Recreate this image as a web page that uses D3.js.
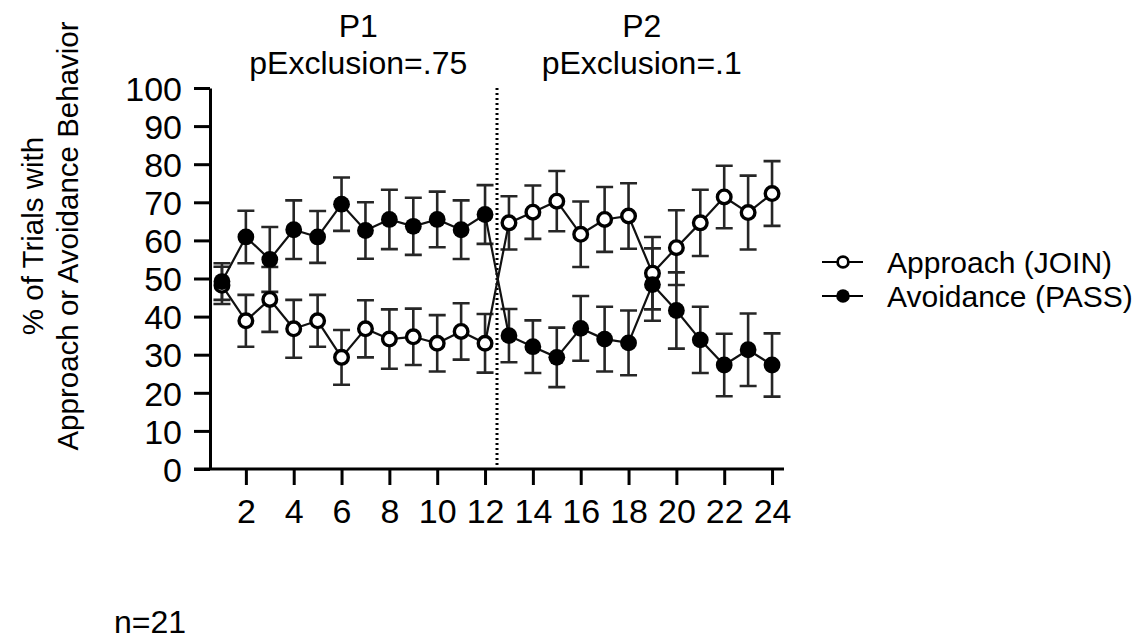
<!DOCTYPE html>
<html lang="en">
<head>
<meta charset="UTF-8">
<title>Approach / Avoidance</title>
<script src="https://cdn.jsdelivr.net/npm/d3@7"></script>
<style>
  body { margin: 0; background: #fff; }
  svg text { font-family: "Liberation Sans", Arial, sans-serif; fill: #000; }
</style>
</head>
<body>
<svg id="chart" width="1148" height="639"></svg>
<script>
// trial numbers and group means (% of trials) with SEM
var trials = d3.range(1, 25);
var approach = [48.2, 38.9, 44.5, 36.8, 38.9, 29.3, 36.8, 34.1, 34.7, 33.0, 36.1, 33.0,
                64.6, 67.4, 70.3, 61.6, 65.5, 66.4, 51.4, 58.1, 64.6, 71.4, 67.3, 72.3];
var approachSem = [4.9, 6.8, 8.5, 7.6, 6.8, 7.2, 7.5, 7.8, 7.4, 7.4, 7.4, 7.7,
                   7.0, 7.0, 7.9, 8.6, 8.5, 8.6, 9.5, 9.8, 8.7, 8.2, 9.7, 8.5];
var avoidance = [49.2, 60.9, 55.0, 62.8, 60.9, 69.5, 62.6, 65.5, 63.7, 65.5, 62.8, 66.8,
                 35.0, 32.1, 29.3, 36.9, 34.1, 33.1, 48.4, 41.6, 33.9, 27.3, 31.3, 27.3];
var avoidanceSem = [4.8, 6.9, 8.5, 7.7, 6.8, 7.0, 7.4, 7.8, 7.5, 7.3, 7.7, 7.7,
                    7.0, 6.9, 7.8, 8.5, 8.5, 8.5, 9.5, 10.0, 8.7, 8.2, 9.5, 8.3];
var xTicks = [2, 4, 6, 8, 10, 12, 14, 16, 18, 20, 22, 24];
var yTicks = [0, 10, 20, 30, 40, 50, 60, 70, 80, 90, 100];
var phases = [{name: "P1", sub: "pExclusion=.75", at: 6.7}, {name: "P2", sub: "pExclusion=.1", at: 18.55}];
var phaseBreak = 12.5;
var legendNames = ["Approach (JOIN)", "Avoidance (PASS)"];

var svg = d3.select("#chart");

var x = d3.scaleLinear().domain([0.5, 24.5]).range([210, 784]);
var y = d3.scaleLinear().domain([0, 100]).range([469, 88]);

// axes
var xAxis = svg.append("g")
    .attr("transform", "translate(0," + y(0) + ")")
    .call(d3.axisBottom(x).tickValues(xTicks).tickSize(16).tickPadding(14).tickSizeOuter(0));
var yAxis = svg.append("g")
    .attr("transform", "translate(" + x(0.5) + ",0)")
    .call(d3.axisLeft(y).tickValues(yTicks).tickSize(16).tickPadding(12).tickSizeOuter(0));

[xAxis, yAxis].forEach(function(a) {
  a.select(".domain").attr("stroke", "#000").attr("stroke-width", 3);
  a.selectAll(".tick line").attr("stroke", "#000").attr("stroke-width", 3);
  a.selectAll(".tick text").attr("font-size", 34).attr("fill", "#000")
    .style("font-family", "'Liberation Sans', Arial, sans-serif");
});
xAxis.select(".domain").attr("d", "M" + (x(0.5) - 16) + ",0H" + x(24.5));
xAxis.selectAll(".tick text").attr("dy", "0.71em");
yAxis.selectAll(".tick text").attr("dy", "0.36em");

// phase divider
svg.append("line")
    .attr("x1", x(phaseBreak)).attr("x2", x(phaseBreak))
    .attr("y1", y(100)).attr("y2", y(0))
    .attr("stroke", "#000").attr("stroke-width", 3)
    .attr("stroke-dasharray", "2,3");

// phase titles
phases.forEach(function(p) {
  svg.append("text").attr("x", x(p.at)).attr("y", 37)
    .attr("text-anchor", "middle").attr("font-size", 32).text(p.name);
  svg.append("text").attr("x", x(p.at)).attr("y", 74)
    .attr("text-anchor", "middle").attr("font-size", 32).text(p.sub);
});

// y axis title
var yt = svg.append("text")
    .attr("transform", "translate(0,236) rotate(-90)")
    .attr("text-anchor", "middle").attr("font-size", 29.5);
yt.append("tspan").attr("x", 0).attr("y", 43).text("% of Trials with");
yt.append("tspan").attr("x", 0).attr("y", 78).text("Approach or Avoidance Behavior");

var series = [
  {values: approach, sem: approachSem, fill: "#fff"},
  {values: avoidance, sem: avoidanceSem, fill: "#000"}
];

var line = d3.line()
    .x(function(d, i) { return x(trials[i]); })
    .y(function(d) { return y(d); });

// error bars
series.forEach(function(s) {
  var g = svg.append("g").attr("stroke", "#262626").attr("stroke-width", 2.6).attr("fill", "none");
  s.values.forEach(function(v, i) {
    var cx = x(trials[i]), hi = y(v + s.sem[i]), lo = y(v - s.sem[i]);
    g.append("path")
      .attr("d", "M" + cx + "," + hi + "V" + lo +
                 "M" + (cx - 8.5) + "," + hi + "H" + (cx + 8.5) +
                 "M" + (cx - 8.5) + "," + lo + "H" + (cx + 8.5));
  });
});

// connecting lines
series.forEach(function(s) {
  svg.append("path").datum(s.values)
    .attr("d", line).attr("fill", "none")
    .attr("stroke", "#111").attr("stroke-width", 2.2);
});

// markers
series.forEach(function(s) {
  svg.append("g").selectAll("circle")
    .data(s.values).enter()
    .append("circle")
    .attr("cx", function(d, i) { return x(trials[i]); })
    .attr("cy", function(d) { return y(d); })
    .attr("r", s.fill === "#fff" ? 6.8 : 8.4)
    .attr("fill", s.fill)
    .attr("stroke", "#000")
    .attr("stroke-width", s.fill === "#fff" ? 3.4 : 0);
});

// legend
var legend = svg.append("g");
legendNames.forEach(function(name, i) {
  var ly = 262 + i * 34;
  legend.append("line").attr("x1", 822).attr("x2", 863).attr("y1", ly).attr("y2", ly)
    .attr("stroke", "#000").attr("stroke-width", 2);
  legend.append("circle").attr("cx", 843).attr("cy", ly)
    .attr("r", i === 0 ? 5.4 : 6.8)
    .attr("fill", series[i].fill).attr("stroke", "#000")
    .attr("stroke-width", i === 0 ? 2.8 : 0);
  legend.append("text").attr("x", 887).attr("y", ly).attr("dy", "0.36em")
    .attr("font-size", 30).text(name);
});

// sample size
svg.append("text").attr("x", 114).attr("y", 633).attr("font-size", 32).text("n=21");
</script>
</body>
</html>
